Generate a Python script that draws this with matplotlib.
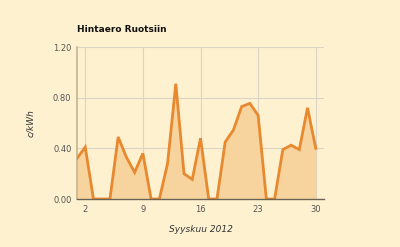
import numpy as np
import matplotlib.pyplot as plt

# data
days = list(range(1, 31))
values = [0.32, 0.41, 0.0, 0.0, 0.0, 0.49, 0.33, 0.21, 0.36, 0.0,
          0.0, 0.28, 0.91, 0.20, 0.155, 0.48, 0.0, 0.0, 0.45, 0.545,
          0.73, 0.755, 0.66, 0.0, 0.0, 0.39, 0.425, 0.39, 0.72, 0.40]
x_ticks = [2, 9, 16, 23, 30]
y_ticks = [0.0, 0.4, 0.8, 1.2]

bg = "#fef1d0"

fig = plt.figure(figsize=(4, 2.47), dpi=100, facecolor=bg)
ax = fig.add_axes([0.1925, 0.1943, 0.6175, 0.6154], facecolor=bg)

## area + line
ax.fill_between(days, values, 0, color="#f7d39e", linewidth=0, zorder=2)
ax.plot(days, values, color="#e8882f", linewidth=2.0, solid_joinstyle="miter", zorder=3)

ax.set_xlim(1, 31)
ax.set_ylim(0, 1.2)
ax.set_xticks(x_ticks)
ax.set_yticks(y_ticks)
ax.set_yticklabels([f"{v:.2f}" for v in y_ticks])
ax.grid(True, color="#d9d4c4", linewidth=0.8, zorder=0)
ax.set_axisbelow(True)

for s in ["top", "right"]:
    ax.spines[s].set_visible(False)
ax.spines["left"].set_color("#c4b48f")
ax.spines["left"].set_linewidth(1.2)
ax.spines["bottom"].set_color("#6b6455")
ax.spines["bottom"].set_linewidth(1.0)
ax.spines["bottom"].set_zorder(4)

ax.tick_params(length=0, labelsize=6, labelcolor="#555555", pad=4)

ax.set_xlabel("Syyskuu 2012", fontsize=6.5, style="italic", color="#333333", labelpad=8)
ax.set_ylabel("c/kWh", fontsize=6.5, style="italic", color="#333333", labelpad=13)
fig.text(77 / 400, 1 - 30 / 247, "Hintaero Ruotsiin", fontsize=6.5, fontweight="bold",
         color="#111111", va="center", ha="left")

fig.savefig("out.png", dpi=100, facecolor=bg)
